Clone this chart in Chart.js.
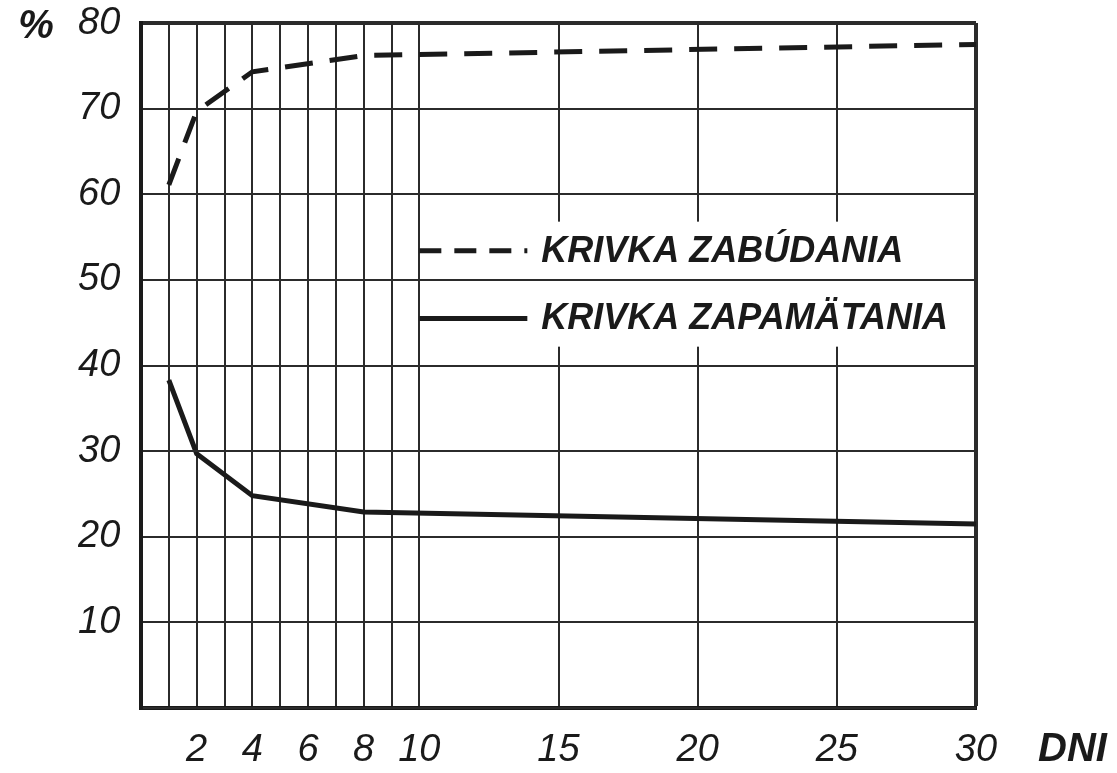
<!DOCTYPE html>
<html>
<head>
<meta charset="utf-8">
<title>Krivka zabúdania</title>
<script src="https://cdn.jsdelivr.net/npm/chart.js@4.4.1/dist/chart.umd.min.js"></script>
<style>
    html, body { margin: 0; padding: 0; background: #fff; }
    #chart_wrap { width: 1117px; height: 773px; position: relative; }
</style>
</head>
<body>
<div id="chart_wrap"><canvas id="memory_chart"></canvas></div>
<script>
// days (x) where the curves bend
const days = [1, 2, 4, 8, 30];
// % forgotten
const forgetting = [61.1, 69.7, 74.3, 76.2, 77.5];
// % remembered
const remembering = [38.3, 29.7, 24.8, 22.9, 21.5];

// x grid lines and the ones that get a label
const xGridDays = [1, 2, 3, 4, 5, 6, 7, 8, 9, 10, 15, 20, 25, 30];
const xLabelDays = [2, 4, 6, 8, 10, 15, 20, 25, 30];
const yLabels = [10, 20, 30, 40, 50, 60, 70, 80];

const seriesNames = ['KRIVKA ZABÚDANIA', 'KRIVKA ZAPAMÄTANIA'];
const yUnit = '%';
const xUnit = 'DNI';

const ink = '#1a1a1a';
const gridInk = '#2b2b2b';
const tickFont = { family: '"Liberation Sans", Arial, sans-serif', size: 38, style: 'italic', lineHeight: 1 };
const boldFont = 'italic bold 36px "Liberation Sans", Arial, sans-serif';

// white legend box inside the plot, to the right of day 10
const legendPlugin = {
    id: 'inner_legend',
    beforeDatasetsDraw(chart) {
        const c = chart.ctx;
        const xs = chart.scales.x, ys = chart.scales.y;
        const area = chart.chartArea;
        const left = xs.getPixelForValue(10);
        const top = ys.getPixelForValue(56.8);
        const bottom = ys.getPixelForValue(42.2);
        c.save();
        c.fillStyle = '#fff';
        c.fillRect(left + 2, top, area.right - left - 4, bottom - top);
        const rows = [ys.getPixelForValue(53.4), ys.getPixelForValue(45.5)];
        chart.data.datasets.forEach(function (ds, i) {
            c.beginPath();
            c.lineWidth = 5;
            c.strokeStyle = ink;
            c.setLineDash(ds.borderDash ? [22, 13] : []);
            c.moveTo(left, rows[i]);
            c.lineTo(left + 108, rows[i]);
            c.stroke();
            c.setLineDash([]);
            c.fillStyle = ink;
            c.font = boldFont;
            c.textAlign = 'left';
            c.textBaseline = 'middle';
            c.fillText(ds.label, left + 122, rows[i] + 1);
        });
        c.restore();
    },
    afterDraw(chart) {
        // axis unit names
        const c = chart.ctx;
        const area = chart.chartArea;
        c.save();
        c.fillStyle = ink;
        c.font = 'italic bold 40px "Liberation Sans", Arial, sans-serif';
        c.textBaseline = 'middle';
        c.textAlign = 'center';
        c.fillText(yUnit, 36, area.top + 4);
        c.textAlign = 'left';
        c.fillText(xUnit, area.right + 62, 750);
        c.restore();
    }
};

let ctx = document.getElementById('memory_chart').getContext('2d');
const memoryChart = new Chart(ctx, {
    type: 'line',
    data: {
        datasets: [{
            label: seriesNames[0],
            data: days.map((d, i) => ({ x: d, y: forgetting[i] })),
            borderColor: ink,
            borderWidth: 5,
            borderDash: [28, 17],
            pointRadius: 0,
            tension: 0,
            fill: false
        }, {
            label: seriesNames[1],
            data: days.map((d, i) => ({ x: d, y: remembering[i] })),
            borderColor: ink,
            borderWidth: 5,
            pointRadius: 0,
            tension: 0,
            fill: false
        }]
    },
    options: {
        responsive: true,
        maintainAspectRatio: false,
        animation: false,
        layout: { padding: { left: 78, right: 141, top: 23, bottom: 0 } },
        plugins: {
            legend: { display: false },
            tooltip: { enabled: false }
        },
        scales: {
            x: {
                type: 'linear',
                min: 0,
                max: 30,
                afterBuildTicks: function (scale) {
                    scale.ticks = xGridDays.map(v => ({ value: v }));
                },
                afterFit: function (scale) { scale.height = 65; },
                ticks: {
                    autoSkip: false,
                    maxRotation: 0,
                    padding: 23,
                    color: ink,
                    font: tickFont,
                    callback: v => xLabelDays.includes(v) ? String(v) : ''
                },
                grid: {
                    drawTicks: false,
                    color: gridInk,
                    lineWidth: c => (c.tick && c.tick.value === 30) ? 4 : 2
                },
                border: { color: ink, width: 4 }
            },
            y: {
                min: 0,
                max: 80,
                afterBuildTicks: function (scale) {
                    scale.ticks = [0].concat(yLabels).map(v => ({ value: v }));
                },
                afterFit: function (scale) { scale.width = 63; },
                ticks: {
                    padding: 0,
                    crossAlign: 'far',
                    color: ink,
                    font: tickFont,
                    callback: v => yLabels.includes(v) ? String(v) : ''
                },
                grid: {
                    z: 1,
                    drawTicks: false,
                    color: gridInk,
                    lineWidth: c => (c.tick && c.tick.value === 80) ? 4 : 2
                },
                border: { z: 1, color: ink, width: 4 }
            }
        }
    },
    plugins: [legendPlugin]
});
</script>
</body>
</html>
